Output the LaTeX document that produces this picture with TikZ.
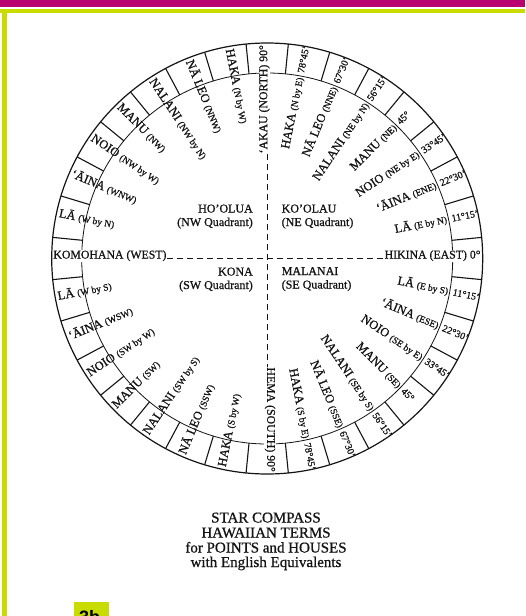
\documentclass[tikz,border=0pt]{standalone}
\usepackage{fontspec}
\setmainfont{Liberation Serif}[FakeBold=0.8]
\newfontfamily\tagsans{Liberation Sans}
\usetikzlibrary{calc}
\definecolor{ink}{HTML}{141414}
\definecolor{magbar}{RGB}{186,0,112}
\definecolor{limebar}{RGB}{200,220,0}
\newcommand\prn[1]{{\fontsize{9.5}{11}\selectfont(#1)}}
\tikzset{
  rim/.style={draw=ink, line width=1.2pt},
  thinrim/.style={draw=ink, line width=0.8pt},
  spoke/.style={draw=ink, line width=1.1pt},
  axisdash/.style={draw=ink, line width=1pt, dash pattern=on 6pt off 4pt},
  lab/.style={inner sep=0pt, text=ink, font=\fontsize{12.5}{14}\selectfont},
  deg/.style={inner sep=0pt, text=ink, font=\fontsize{10}{12}\selectfont},
  card/.style={inner sep=0.5pt, fill=white, text=ink, font=\fontsize{11.8}{14}\selectfont},
  quad/.style={inner sep=0pt, text=ink, font=\fontsize{12}{13.5}\selectfont},
  title/.style={inner sep=0pt, text=ink, font=\fontsize{15}{15}\selectfont}
}
\begin{document}
\begin{tikzpicture}[x=1pt,y=1pt]
\useasboundingbox (0,0) rectangle (525,-616);
\clip (0,0) rectangle (525,-616);
\fill[white] (0,0) rectangle (525,-616);
% page bars
\fill[magbar] (0,0) rectangle (525,-7.3);
\fill[limebar] (0,-9.3) rectangle (525,-13.3);
\fill[limebar] (1.7,-9.3) rectangle (6.5,-616);
% compass
\coordinate (C) at (267.2,-258.5);
\def\Ro{215.5}
\def\Ri{185.5}
\draw[rim] (C) circle[radius=\Ro];
\draw[thinrim] (C) circle[radius=\Ri];
\foreach \k in {0,...,31}{
  \draw[spoke,shift={(C)}] ({(\k+0.5)*11.25}:\Ri) -- ({(\k+0.5)*11.25}:\Ro);
}
% cardinal points
\node[card, anchor=base east] (east) at ($(C)+(0:\Ro-1.5)$) {HIKINA (EAST) 0°};
\node[card, anchor=base east, rotate=90] (north) at ($(C)+(90:\Ro-1.5)$) {‘AKAU (NORTH) 90°};
\node[card, anchor=base east, rotate=-90] (south) at ($(C)+(-90:\Ro-1.5)$) {HEMA (SOUTH) 90°};
\node[card, anchor=base west] (west) at ($(C)+(180:\Ro-1)$) {KOMOHANA (WEST)};
\draw[axisdash] (west.base east) -- (east.base west);
\draw[axisdash] (north.base west) -- (south.base west);
% east side houses
\foreach \ang/\nm/\pr/\dg [count=\i] in {
  11.25/LĀ/E by N/11°15',
  22.5/‘ĀINA/ENE/22°30',
  33.75/NOIO/NE by E/33°45',
  45/MANU/NE/45°,
  56.25/NALANI/NE by N/56°15',
  67.5/NĀ LEO/NNE/67°30',
  78.75/HAKA/N by E/78°45',
  -11.25/LĀ/E by S/11°15',
  -22.5/‘ĀINA/ESE/22°30',
  -33.75/NOIO/SE by E/33°45',
  -45/MANU/SE/45°,
  -56.25/NALANI/SE by S/56°15',
  -67.5/NĀ LEO/SSE/67°30',
  -78.75/HAKA/S by E/78°45'}{
  \node[lab, anchor=base east, rotate=\ang] (en\i) at ($(C)+(\ang:\Ri-1.5)$) {\nm\ \prn{\pr}};
  \node[deg, anchor=base west, rotate=\ang] (ed\i) at ($(C)+(\ang:\Ri+3)$) {\dg};
}
% west side houses
\foreach \ang/\nm/\pr [count=\i] in {
  168.75/LĀ/W by N,
  157.5/‘ĀINA/WNW,
  146.25/NOIO/NW by W,
  135/MANU/NW,
  123.75/NALANI/NW by N,
  112.5/NĀ LEO/NNW,
  101.25/HAKA/N by W,
  191.25/LĀ/W by S,
  202.5/‘ĀINA/WSW,
  213.75/NOIO/SW by W,
  225/MANU/SW,
  236.25/NALANI/SW by S,
  247.5/NĀ LEO/SSW,
  258.75/HAKA/S by W}{
  \node[lab, anchor=base west, rotate={\ang-180}] (wn\i) at ($(C)+(\ang:\Ro-2.5)$) {\nm\ \prn{\pr}};
}
% quadrant names
\node[quad, align=right, anchor=base east] (nw) at (253,-226) {HO'OLUA\\(NW Quadrant)};
\node[quad, align=left, anchor=base west] (ne) at (281.5,-226) {KO'OLAU\\(NE Quadrant)};
\node[quad, align=right, anchor=base east] (sw) at (253,-289) {KONA\\(SW Quadrant)};
\node[quad, align=left, anchor=base west] (se) at (281.5,-288.5) {MALANAI\\(SE Quadrant)};
% title
\node[title, anchor=base] (t1) at (266,-522.5) {STAR COMPASS};
\node[title, anchor=base] (t2) at (266,-537.5) {HAWAIIAN TERMS};
\node[title, anchor=base] (t3) at (266,-552.5) {for POINTS and HOUSES};
\node[title, anchor=base] (t4) at (266,-567) {with English Equivalents};
% tag
\fill[limebar] (74,-602) rectangle (108.7,-620);
\node[inner sep=0pt, anchor=base west, font=\tagsans\bfseries\fontsize{18}{20}\selectfont] (tag) at (79,-623) {3b};
\end{tikzpicture}
\end{document}
